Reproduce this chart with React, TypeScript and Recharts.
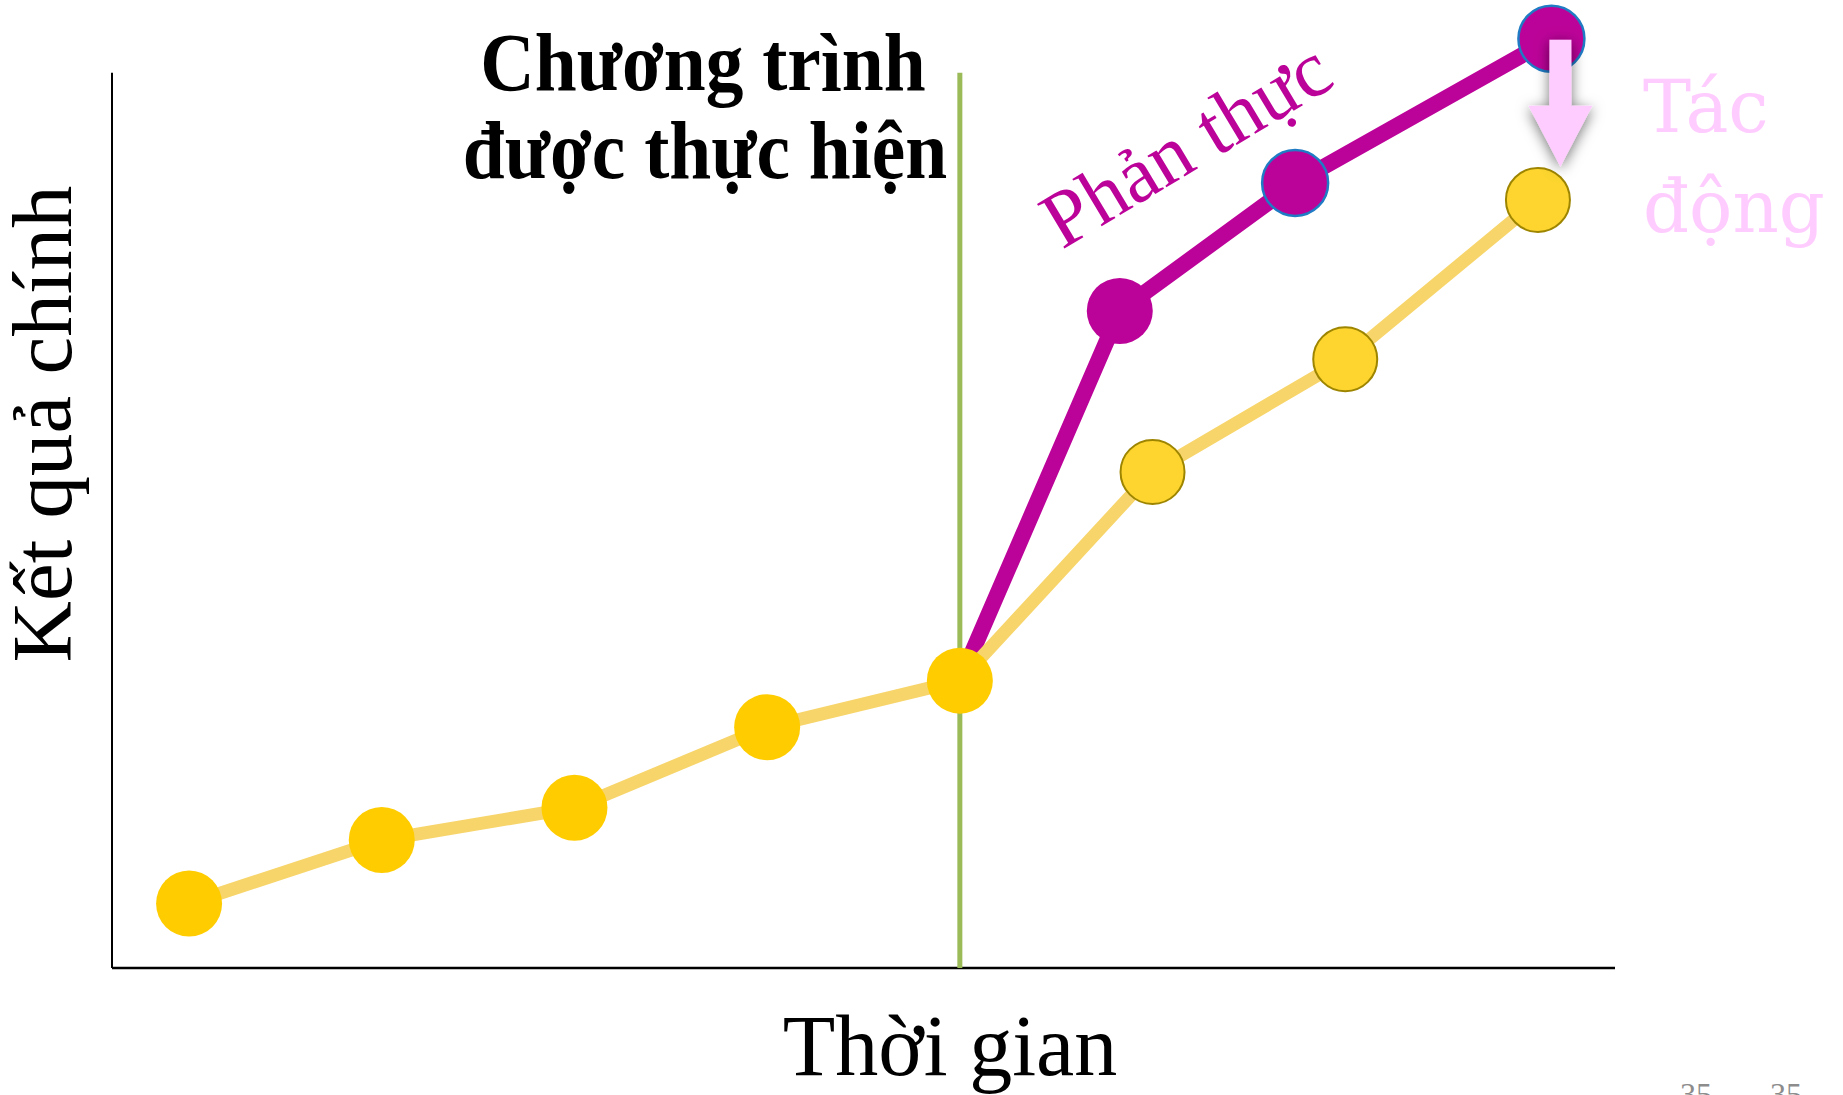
import { LineChart, Line, XAxis, YAxis, ReferenceLine, ReferenceDot } from 'recharts';

// time positions and outcome levels
const baselineX = [1, 2, 3, 4, 5, 6, 7, 8];
const baselineY = [7.2, 14.3, 17.9, 26.9, 32.1, 55.4, 68.0, 85.8];
const factualX = [5, 5.83, 6.74, 8.07];
const factualY = [32.1, 73.4, 87.7, 103.8];

const PROGRAM_START = 5;
const X_DOMAIN: [number, number] = [0.6, 8.4];
const Y_DOMAIN: [number, number] = [0, 105];
const Y_AXIS_TOP = 100;

const baseline = baselineX.map((x, i) => ({ x, y: baselineY[i] }));
const factual = factualX.map((x, i) => ({ x, y: factualY[i] }));

const YELLOW = '#FFCC00';
const YELLOW_LINE = '#F7D56B';
const MAGENTA = '#BC0399';
const PINK = '#FFCCFF';
const SERIF = '"Liberation Serif", "Times New Roman", serif';

const baselineDot = (props: any) => {
  const { cx, cy, index } = props;
  const after = index > PROGRAM_START - 1;
  return (
    <circle
      key={`b-${index}`}
      cx={cx}
      cy={cy}
      r={after ? 32 : 33}
      fill={after ? '#FDD52E' : YELLOW}
      stroke={after ? '#9E8500' : 'none'}
      strokeWidth={after ? 2 : 0}
    />
  );
};

const factualDot = (props: any) => {
  const { cx, cy, index } = props;
  if (index === 0) return <g key={`f-${index}`} />;
  return (
    <circle
      key={`f-${index}`}
      cx={cx}
      cy={cy}
      r={33}
      fill={MAGENTA}
      stroke={index > 1 ? '#1F7BC4' : 'none'}
      strokeWidth={index > 1 ? 2.5 : 0}
    />
  );
};

const ImpactArrow = (props: any) => {
  const { cx, cy } = props;
  const x = cx + 9;
  const top = cy + 1;
  const d = [
    `M${x - 11},${top}`,
    `L${x + 11},${top}`,
    `L${x + 11},${top + 66}`,
    `L${x + 32},${top + 66}`,
    `L${x},${top + 127}`,
    `L${x - 32},${top + 66}`,
    `L${x - 11},${top + 66}`,
    'Z',
  ].join(' ');
  return (
    <g>
      <defs>
        <filter id="arrowShadow" x="-50%" y="-50%" width="200%" height="200%">
          <feDropShadow dx="0" dy="3" stdDeviation="7" floodColor="#000" floodOpacity="0.55" />
        </filter>
      </defs>
      <path d={d} fill={PINK} filter="url(#arrowShadow)" />
    </g>
  );
};

export default function App() {
  return (
    <div style={{ width: 1843, height: 1095, background: '#fff', overflow: 'hidden' }}>
      <style>{'body{margin:0;overflow:hidden}'}</style>
      <LineChart width={1843} height={1095} margin={{ top: 28, right: 228, bottom: 127, left: 112 }}>
        <XAxis type="number" dataKey="x" domain={X_DOMAIN} allowDataOverflow height={0} hide />
        <YAxis type="number" dataKey="y" domain={Y_DOMAIN} hide />
        <ReferenceLine
          segment={[{ x: X_DOMAIN[0], y: 0 }, { x: X_DOMAIN[0], y: Y_AXIS_TOP }]}
          stroke="#000"
          strokeWidth={2}
        />
        <ReferenceLine
          segment={[{ x: X_DOMAIN[0], y: 0 }, { x: X_DOMAIN[1], y: 0 }]}
          stroke="#000"
          strokeWidth={2.5}
        />
        <ReferenceLine
          segment={[{ x: PROGRAM_START, y: 0 }, { x: PROGRAM_START, y: Y_AXIS_TOP }]}
          stroke="#9BBB59"
          strokeWidth={5}
        />
        <Line
          data={factual}
          dataKey="y"
          stroke={MAGENTA}
          strokeWidth={16}
          dot={factualDot}
          activeDot={false}
          isAnimationActive={false}
        />
        <Line
          data={baseline}
          dataKey="y"
          stroke={YELLOW_LINE}
          strokeWidth={13}
          dot={baselineDot}
          activeDot={false}
          isAnimationActive={false}
        />
        <ReferenceDot
          x={factualX[factualX.length - 1]}
          y={factualY[factualY.length - 1]}
          r={1}
          shape={ImpactArrow}
        />
        <g fontFamily={SERIF}>
          <text x={703} y={90} textAnchor="middle" fontSize={82} fontWeight="bold" fill="#000"
            transform="translate(703,0) scale(0.92,1) translate(-703,0)">
            Chương trình
          </text>
          <text x={705} y={178} textAnchor="middle" fontSize={82} fontWeight="bold" fill="#000"
            transform="translate(705,0) scale(0.92,1) translate(-705,0)">
            được thực hiện
          </text>
          <text x={1062} y={250} fontSize={80} fill={MAGENTA} transform="rotate(-31 1062 250)">
            Phản thực
          </text>
          <text x={950} y={1075} textAnchor="middle" fontSize={86} fill="#000">
            Thời gian
          </text>
          <text x={71} y={424} textAnchor="middle" fontSize={85} fill="#000" transform="rotate(-90 71 424)">
            Kết quả chính
          </text>
          <text x={1680} y={1105} fontSize={32} fill="#8C8C8C">35</text>
          <text x={1770} y={1105} fontSize={32} fill="#8C8C8C">35</text>
        </g>
        <g fontFamily='"DejaVu Serif", serif' fill={PINK} fontSize={72}>
          <text x={1643} y={132}>Tác</text>
          <text x={1643} y={232}>động</text>
        </g>
      </LineChart>
    </div>
  );
}
